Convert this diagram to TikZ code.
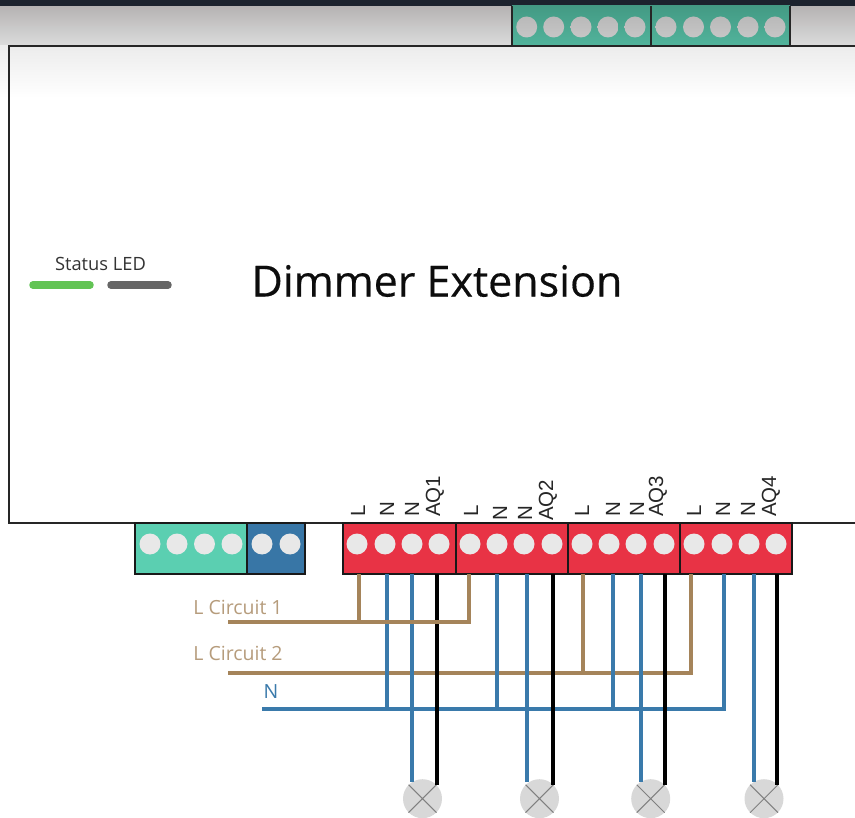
\documentclass[tikz,border=0pt]{standalone}
\usepackage{fontspec}
\setmainfont{Open Sans}
\newfontfamily\labelfont{Liberation Sans}
\newfontfamily\titlefont[FakeBold=0.35]{Open Sans}
\definecolor{tealc}{HTML}{5BCFB1}
\definecolor{bluec}{HTML}{3876A6}
\definecolor{redc}{HTML}{E83345}
\definecolor{wirebrown}{HTML}{A5845A}
\definecolor{wireblue}{HTML}{3A7AAB}
\definecolor{textbrown}{HTML}{B69C7C}
\definecolor{pin}{HTML}{E8E8E8}
\definecolor{lampfill}{HTML}{D8D8D8}
\definecolor{topbar}{HTML}{1C232E}
\definecolor{outA}{HTML}{B5B3B3}
\definecolor{outB}{HTML}{DCDCDC}
\definecolor{inA}{HTML}{ECECEC}
\definecolor{inB}{HTML}{FFFFFF}
\definecolor{tealA}{HTML}{439A84}
\definecolor{tealB}{HTML}{52B49C}
\definecolor{pinA}{HTML}{B9B9B9}
\definecolor{pinB}{HTML}{C6C6C6}
\definecolor{ledgreen}{HTML}{62C454}
\tikzset{
  x=1pt,y=-1pt,
  block/.style={draw=black!90,line width=2pt,minimum height=51pt,inner sep=0pt,outer sep=0pt},
  redblock/.style={block,fill=redc,minimum width=112.5pt},
  pinc/.style={circle,fill=pin,minimum size=21pt,inner sep=0pt},
  brownw/.style={draw=wirebrown,line width=4pt,line join=miter},
  bluew/.style={draw=wireblue,line width=4pt,line join=miter},
  blackw/.style={draw=black,line width=4pt},
  lamp/.style={circle,fill=lampfill,minimum size=39pt,inner sep=0pt},
  termlabel/.style={font=\labelfont\fontsize{20.5}{20.5}\selectfont,rotate=90,anchor=west,inner sep=0pt,text=black!85},
  ledbar/.style={line width=7.5pt,line cap=round},
  wirelabel/.style={font=\fontsize{19.5}{19.5}\selectfont,inner sep=0pt},
}
\begin{document}
\begin{tikzpicture}
\useasboundingbox (0,0) rectangle (855,818);
\fill[white] (0,0) rectangle (855,818);
% top gradients
\shade[top color=outA,bottom color=outB] (0,6) rectangle (855,46);
\shade[top color=inA,bottom color=inB] (0,46) rectangle (855,98);
\fill[topbar] (0,0) rectangle (855,6);
% housing
\draw[black!85,line width=2pt] (860,46) -- (9,46) -- (9,523) -- (860,523);
% top terminals
\foreach \a/\b in {512/651,651/790}{
  \shade[top color=tealA,bottom color=tealB] (\a,6) rectangle (\b,46);
  \draw[black!85,line width=2pt] (\a,6) -- (\a,46) -- (\b,46) -- (\b,6);
}
\foreach \x in {526.7,553.7,581,608,635,666,693.5,720.5,748,775}
  \shade[top color=pinA,bottom color=pinB] (\x,27) circle (10.5);
% bottom terminals
\node[block,fill=tealc,minimum width=112pt] (gA) at (191,548.5) {};
\node[block,fill=bluec,minimum width=58pt] (gB) at (276,548.5) {};
\node[redblock] (r1) at (399.5,548.5) {};
\node[redblock] (r2) at (512,548.5) {};
\node[redblock] (r3) at (624,548.5) {};
\node[redblock] (r4) at (736,548.5) {};
\foreach \x in {150,177,204.5,232,262,290,357,385,412,439,470,497,524,552,582,609,636,664,694,722,749,776}
  \node[pinc] at (\x,544) {};
% terminal labels
\foreach \x/\y/\t in {358/517/L,387/517/N,412/517/N,435/517/AQ1,471/517/L,500/521/N,525/521/N,548/521/AQ2,582/517/L,613/517/N,637/517/N,658/517/AQ3,694/517/L,723/517/N,748/517/N,771/517/AQ4}
  \node[termlabel] at (\x,\y) {\t};
% lamps
\foreach \n/\x in {la/422.5,lb/539.5,lc/650.7,ld/764}{
  \node[lamp] (\n) at (\x,798.7) {};
  \draw[black!50,line width=1pt] (\n.north west) -- (\n.south east) (\n.north east) -- (\n.south west);
}
% wire anchors
\foreach \n/\x in {b1/359,b2/469,b3/583,b4/691,n1/387,n2/497,n3/613,n4/724,q1/412,q2/527,q3/640.5,q4/754,k1/437,k2/552.5,k3/664.5,k4/777}
  \coordinate (\n) at (\x,574);
\coordinate (l1s) at (228,622);
\coordinate (l2s) at (228,673);
\coordinate (ns) at (262,708.7);
\coordinate (la1) at (412,782);\coordinate (la2) at (437,785);
\coordinate (lb1) at (527,782);\coordinate (lb2) at (552.5,785);
\coordinate (lc1) at (640.5,782);\coordinate (lc2) at (664.5,785);
\coordinate (ld1) at (754,782);\coordinate (ld2) at (777,785);
% second brown circuit lies under the others
\draw[brownw] (l2s) -- (b4 |- l2s) -- (b4);
\draw[brownw] (b3) -- (b3 |- l2s);
% blue wires
\draw[bluew] (ns) -- (n4 |- ns) -- (n4);
\foreach \n in {n1,n2,n3} \draw[bluew] (\n) -- (\n |- ns);
\foreach \a/\b in {q1/la1,q2/lb1,q3/lc1,q4/ld1} \draw[bluew] (\a) -- (\b);
% black wires
\foreach \a/\b in {k1/la2,k2/lb2,k3/lc2,k4/ld2} \draw[blackw] (\a) -- (\b);
% first brown circuit on top
\draw[brownw] (l1s) -- (b2 |- l1s) -- (b2);
\draw[brownw] (b1) -- (b1 |- l1s);
% texts
\node[inner sep=0pt,text=black!95,font=\titlefont\fontsize{43}{43}\selectfont] (title) at (437,281) {Dimmer Extension};
\node[inner sep=0pt,text=black!80,font=\fontsize{18.3}{18.3}\selectfont] (status) at (100.5,264) {Status LED};
\draw[ledbar,draw=ledgreen] (33,285) -- (90,285);
\draw[ledbar,draw=black!60] (111,285) -- (168,285);
\node[wirelabel,text=textbrown] (c1) at (238,607) {L Circuit 1};
\node[wirelabel,text=textbrown] (c2) at (238,653) {L Circuit 2};
\node[wirelabel,text=wireblue] (cn) at (271,692) {N};
\end{tikzpicture}
\end{document}
